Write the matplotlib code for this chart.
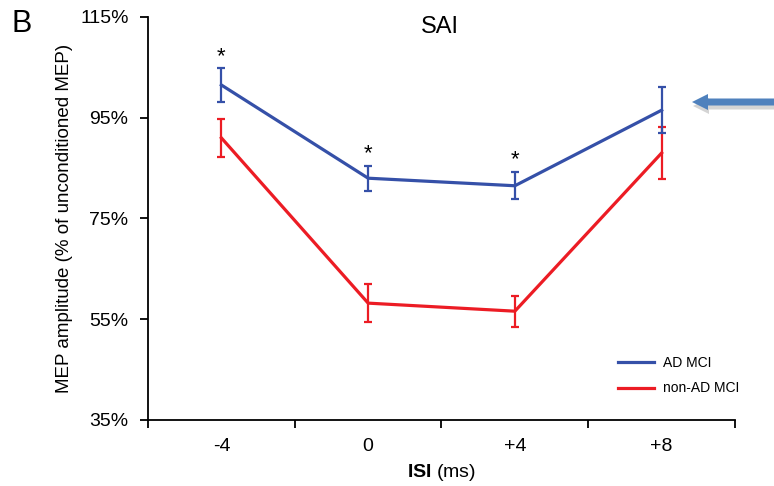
import matplotlib
matplotlib.use("Agg")
import matplotlib.pyplot as plt
import numpy as np

plt.rcParams['font.family'] = ['Liberation Sans', 'DejaVu Sans']
plt.rcParams['mathtext.fontset'] = 'custom'
plt.rcParams['mathtext.bf'] = 'Liberation Sans:bold'
plt.rcParams['mathtext.rm'] = 'Liberation Sans'

isi_labels = ["-4", "0", "+4", "+8"]
ad_mci = [101.5, 83.0, 81.5, 96.5]
ad_mci_err = [3.3, 2.45, 2.7, 4.6]
non_ad_mci = [91.0, 58.2, 56.6, 88.0]
non_ad_mci_err = [3.7, 3.7, 3.05, 5.1]
signif = [True, True, True, False]

blue = "#3550a8"
red = "#ec1c24"

fig = plt.figure(figsize=(7.74, 4.86), dpi=100)
ax = fig.add_axes([148/774, 1 - 420/486, 587/774, 403/486])

x = np.arange(len(isi_labels)) + 0.5

ax.errorbar(x, ad_mci, yerr=ad_mci_err, color=blue, lw=2.3, elinewidth=1.6,
            capsize=3.2, capthick=1.6, label="AD MCI", zorder=3)
ax.errorbar(x, non_ad_mci, yerr=non_ad_mci_err, color=red, lw=2.3, elinewidth=1.6,
            capsize=3.2, capthick=1.6, label="non-AD MCI", zorder=2)

for xi, yi, ei, s in zip(x, ad_mci, ad_mci_err, signif):
    if s:
        ax.text(xi, yi + ei + 0.3, "*", ha="center", va="bottom", fontsize=16)

ax.set_xlim(0, 4)
ax.set_ylim(35, 115)
ax.set_xticks(np.arange(0, 5))
ax.set_xticklabels([])
ax.set_xticks(x, minor=True)
ax.set_xticklabels(isi_labels, minor=True, fontsize=14)
ax.tick_params(axis="x", which="minor", length=0, pad=13)
ax.tick_params(axis="x", which="major", length=6, width=1.3, direction="out")
ax.set_yticks([35, 55, 75, 95, 115])
ax.set_yticklabels(["35%", "55%", "75%", "95%", "115%"], fontsize=14)
ax.tick_params(axis="y", length=6, width=1.3, direction="out", pad=8)

for side in ["top", "right"]:
    ax.spines[side].set_visible(False)
for side in ["left", "bottom"]:
    ax.spines[side].set_linewidth(1.3)

ax.set_xlabel(r"$\bf{ISI}$ (ms)", fontsize=14, labelpad=5)
ax.set_ylabel("MEP amplitude (% of unconditioned MEP)", fontsize=13.5, labelpad=5)
fig.text(440/774, 1 - 27/486, "SAI", fontsize=17, ha="center", va="center")

handles = [plt.Line2D([], [], color=blue, lw=2.3), plt.Line2D([], [], color=red, lw=2.3)]
ax.legend(handles, ["AD MCI", "non-AD MCI"], loc="lower left",
          bbox_to_anchor=(0.78, 0.03), frameon=False, fontsize=10,
          handlelength=2.6, handletextpad=0.6, labelspacing=0.85)

fig.text(11/774, 1 - 24/486, "B", fontsize=22, va="center", ha="left")

# arrow at right edge
fig.patches.append(matplotlib.patches.FancyArrow(
    777/774, 1 - 106/486, -84/774, 0, width=7/486, head_width=16/486,
    head_length=16/774, length_includes_head=True, transform=fig.transFigure,
    color="#a0a0a0", alpha=0.45, lw=0))
fig.patches.append(matplotlib.patches.FancyArrow(
    774/774, 1 - 102/486, -82/774, 0, width=7/486, head_width=16/486,
    head_length=16/774, length_includes_head=True, transform=fig.transFigure,
    color="#4f81bd", lw=0))

fig.savefig("out.png", dpi=100)
